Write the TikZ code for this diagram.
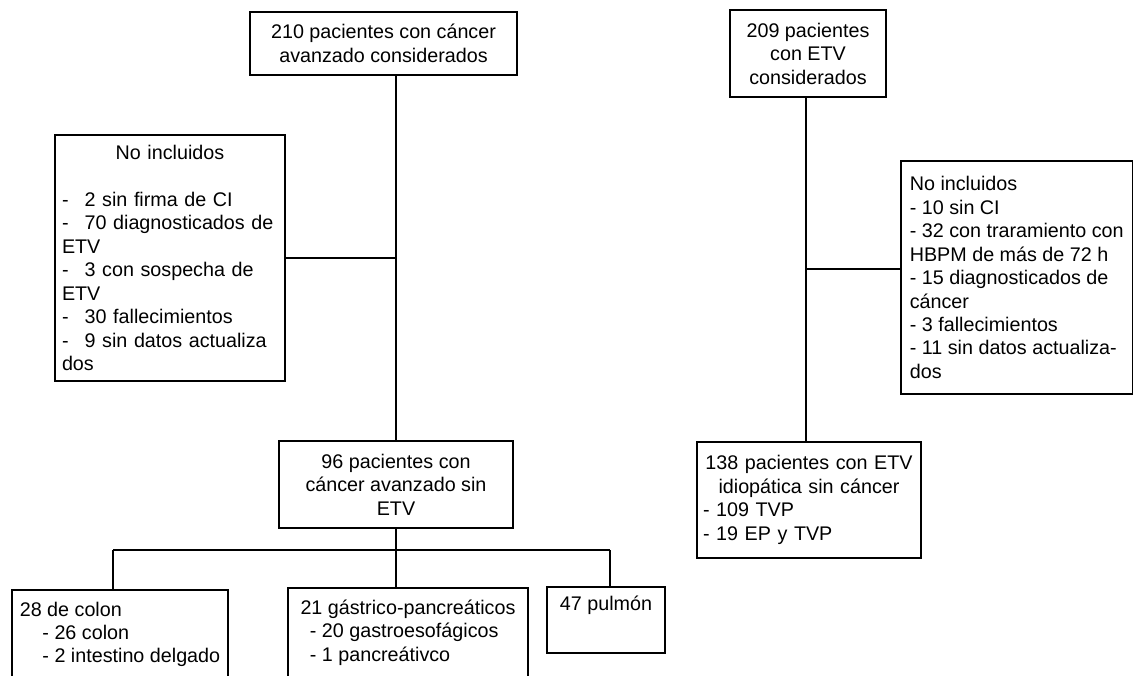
\documentclass[tikz,border=0pt]{standalone}
\usepackage{fontspec}
\setmainfont{Liberation Sans}
\newcommand{\tabdash}{\makebox[17pt][l]{-}}
\newcommand{\centrado}[2]{\makebox[#1]{#2}}
\tikzset{
	caja/.style={draw, line width=1.3pt, font=\fontsize{14.8pt}{17.6pt}\selectfont},
	linea/.style={line width=1.3pt}
}

\begin{document}
\begin{tikzpicture}[x=0.75pt,y=-0.75pt]
		\useasboundingbox (0,0) rectangle (1134,675);
		\clip (0,0) rectangle (1134,675);
		% rama izquierda
		\node[caja, align=center, minimum width=200.25pt, minimum height=47.25pt] (ini) at (383.5,43.5) {210 pacientes con cáncer\\avanzado considerados};
		\node[caja, align=left, text width=162pt, inner xsep=5.25pt, minimum height=184.5pt] (excl) at (170,258) {\noindent\centrado{162pt}{No incluidos}\\ \mbox{}\\
			\tabdash 2 sin firma de CI\\
			\tabdash 70 diagnosticados de\\
			ETV\\
			\tabdash 3 con sospecha de\\
			ETV\\
			\tabdash 30 fallecimientos\\
			\tabdash 9 sin datos actualiza\\
			dos};
		\node[caja, align=center, minimum width=175.5pt, minimum height=65.25pt] (med) at (396,484.5) {96 pacientes con\\cáncer avanzado sin\\ETV};
		\node[caja, align=left, anchor=north, minimum width=162pt, minimum height=66.75pt] (colon) at (120,589) {28 de colon\\
			\hspace*{17pt}- 26 colon\\
			\hspace*{17pt}- 2 intestino delgado};
		\node[caja, align=left, anchor=north, minimum width=180pt, minimum height=66.75pt] (gastro) at (408,587) {21 gástrico-pancreáticos\\
			\hspace*{7pt}- 20 gastroesofágicos\\
			\hspace*{7pt}- 1 pancreátivco};
		\node[caja, minimum width=88.5pt, minimum height=49.5pt, text height=10.5pt, text depth=25.5pt] (pulmon) at (606,620) {47 pulmón};
		\draw[linea] (ini.south -| med.north) -- (med.north);
		\draw[linea] (excl.east) -- (excl.east -| med.north);
		\coordinate (b1) at (113,550);
		\coordinate (b3) at (610,550);
		\draw[linea] (b1) -- (b3);
		\draw[linea] (med.south) -- (med.south |- gastro.north);
		\draw[linea] (b1) -- (b1 |- colon.north);
		\draw[linea] (b3) -- (b3 |- pulmon.north);
		% rama derecha
		\node[caja, align=center, minimum width=117pt, minimum height=65.25pt] (etv) at (808,53.5) {209 pacientes\\con ETV\\considerados};
		\node[caja, align=left, minimum width=173.6pt, minimum height=174.75pt] (excl2) at (1016.75,277.5) {No incluidos\\
			- 10 sin CI\\
			- 32 con traramiento con\\
			HBPM de más de 72 h\\
			- 15 diagnosticados de\\
			cáncer\\
			- 3 fallecimientos\\
			- 11 sin datos actualiza-\\
			dos};
		\node[caja, align=left, text width=159pt, inner xsep=4.5pt, minimum height=87pt] (idio) at (809,500) {\noindent\centrado{159pt}{138 pacientes con ETV}\\
			\centrado{159pt}{idiopática sin cáncer}\\
			- 109 TVP\\
			- 19 EP y TVP};
		\coordinate (rj) at (806,269);
		\draw[linea] (etv.south -| rj) -- (rj |- idio.north);
		\draw[linea] (rj) -- (rj -| excl2.west);
	\end{tikzpicture}
\end{document}
